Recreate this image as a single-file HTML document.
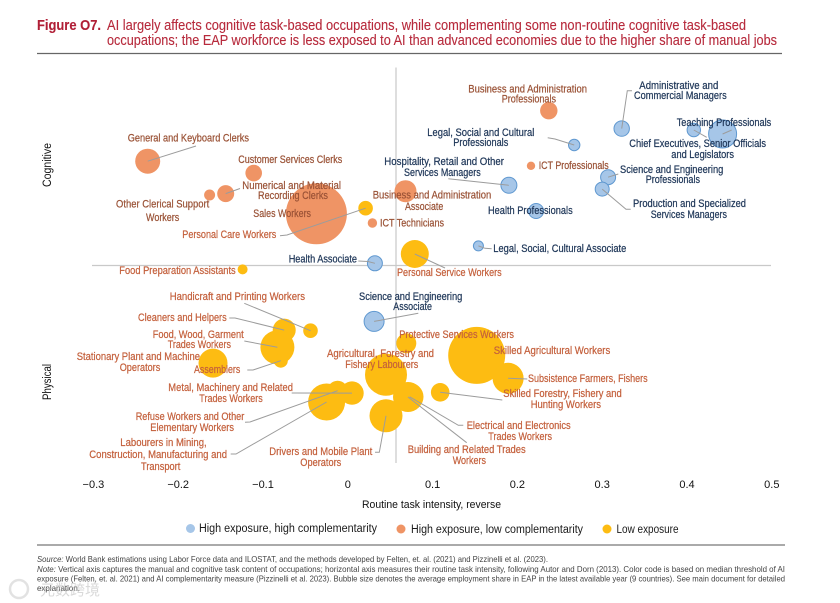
<!DOCTYPE html>
<html lang="en">
<head>
<meta charset="utf-8">
<title>Figure O7</title>
<style>
html,body{margin:0;padding:0;background:#fff;width:840px;height:603px;overflow:hidden}
svg{display:block;font-family:"Liberation Sans",sans-serif}
.t{font-size:14.6px;fill:#b72a3c;stroke:#b72a3c;stroke-width:.12px}
.l{font-size:10.6px;text-anchor:start;stroke-width:.22px}
.b{fill:#1d3557;stroke:#1d3557}.o{fill:#9a5236;stroke:#9a5236}.y{fill:#c4603c;stroke:#c4603c}
.n{font-size:8.2px;fill:#444}
</style>
</head>
<body>
<svg id="chart" width="840" height="603" viewBox="0 0 840 603" xmlns="http://www.w3.org/2000/svg">
<g>
<text class="t" x="37" y="30" font-weight="bold" textLength="64" lengthAdjust="spacingAndGlyphs" style="fill:#b01e36">Figure O7.</text>
<text class="t" x="107" y="30" textLength="639" lengthAdjust="spacingAndGlyphs">AI largely affects cognitive task-based occupations, while complementing some non-routine cognitive task-based</text>
<text class="t" x="107" y="45" textLength="670" lengthAdjust="spacingAndGlyphs">occupations; the EAP workforce is less exposed to AI than advanced economies due to the higher share of manual jobs</text>
</g>
<line x1="37" y1="53.5" x2="782" y2="53.5" stroke="#666" stroke-width="1.3"/>
<line x1="92" y1="265.5" x2="771" y2="265.5" stroke="#c9c9c9" stroke-width="1.2"/>
<line x1="396" y1="67.5" x2="396" y2="463" stroke="#c9c9c9" stroke-width="1.2"/>
<g id="bubbles"></g>
<g id="leaders"></g>
<g id="ticks"></g>

<g>
<text class="l o" x="127.7" y="141.7" textLength="121.3" lengthAdjust="spacingAndGlyphs">General and Keyboard Clerks</text>
<text class="l o" x="238.3" y="163" textLength="104" lengthAdjust="spacingAndGlyphs">Customer Services Clerks</text>
<text class="l o" x="242.3" y="189" textLength="98.7" lengthAdjust="spacingAndGlyphs">Numerical and Material</text>
<text class="l o" x="258" y="199" textLength="70" lengthAdjust="spacingAndGlyphs">Recording Clerks</text>
<text class="l o" x="116" y="207.7" textLength="93.3" lengthAdjust="spacingAndGlyphs">Other Clerical Support</text>
<text class="l o" x="146" y="221" textLength="33.3" lengthAdjust="spacingAndGlyphs">Workers</text>
<text class="l o" x="253.3" y="217" textLength="57.7" lengthAdjust="spacingAndGlyphs">Sales Workers</text>
<text class="l y" x="182.3" y="238" textLength="94" lengthAdjust="spacingAndGlyphs">Personal Care Workers</text>
<text class="l o" x="372.7" y="198.7" textLength="118.6" lengthAdjust="spacingAndGlyphs">Business and Administration</text>
<text class="l o" x="405" y="210" textLength="38.3" lengthAdjust="spacingAndGlyphs">Associate</text>
<text class="l o" x="380" y="226.7" textLength="64" lengthAdjust="spacingAndGlyphs">ICT Technicians</text>
<text class="l b" x="288.7" y="262.7" textLength="68.3" lengthAdjust="spacingAndGlyphs">Health Associate</text>
<text class="l b" x="384.3" y="165" textLength="119.7" lengthAdjust="spacingAndGlyphs">Hospitality, Retail and Other</text>
<text class="l b" x="404" y="176" textLength="76.7" lengthAdjust="spacingAndGlyphs">Services Managers</text>
<text class="l y" x="119.3" y="274" textLength="116.4" lengthAdjust="spacingAndGlyphs">Food Preparation Assistants</text>
<text class="l o" x="468.3" y="92.7" textLength="118.7" lengthAdjust="spacingAndGlyphs">Business and Administration</text>
<text class="l o" x="501.7" y="102.7" textLength="54.3" lengthAdjust="spacingAndGlyphs">Professionals</text>
<text class="l b" x="427.3" y="136" textLength="107" lengthAdjust="spacingAndGlyphs">Legal, Social and Cultural</text>
<text class="l b" x="453.3" y="146" textLength="55" lengthAdjust="spacingAndGlyphs">Professionals</text>
<text class="l o" x="538.7" y="169" textLength="70" lengthAdjust="spacingAndGlyphs">ICT Professionals</text>
<text class="l b" x="639.3" y="89" textLength="79" lengthAdjust="spacingAndGlyphs">Administrative and</text>
<text class="l b" x="634" y="99" textLength="92.7" lengthAdjust="spacingAndGlyphs">Commercial Managers</text>
<text class="l b" x="676.7" y="126" textLength="94.6" lengthAdjust="spacingAndGlyphs">Teaching Professionals</text>
<text class="l b" x="629.3" y="147" textLength="136.7" lengthAdjust="spacingAndGlyphs">Chief Executives, Senior Officials</text>
<text class="l b" x="671.3" y="158" textLength="62.7" lengthAdjust="spacingAndGlyphs">and Legislators</text>
<text class="l b" x="620" y="173" textLength="103.3" lengthAdjust="spacingAndGlyphs">Science and Engineering</text>
<text class="l b" x="645.7" y="183" textLength="54.3" lengthAdjust="spacingAndGlyphs">Professionals</text>
<text class="l b" x="633" y="207" textLength="113" lengthAdjust="spacingAndGlyphs">Production and Specialized</text>
<text class="l b" x="650.7" y="218" textLength="76.3" lengthAdjust="spacingAndGlyphs">Services Managers</text>
<text class="l b" x="488" y="214" textLength="84.7" lengthAdjust="spacingAndGlyphs">Health Professionals</text>
<text class="l b" x="493.3" y="252" textLength="133" lengthAdjust="spacingAndGlyphs">Legal, Social, Cultural Associate</text>
<text class="l y" x="397" y="276" textLength="104.7" lengthAdjust="spacingAndGlyphs">Personal Service Workers</text>
<text class="l y" x="169.7" y="300" textLength="135.3" lengthAdjust="spacingAndGlyphs">Handicraft and Printing Workers</text>
<text class="l y" x="138" y="321" textLength="88.7" lengthAdjust="spacingAndGlyphs">Cleaners and Helpers</text>
<text class="l y" x="152.7" y="338" textLength="91" lengthAdjust="spacingAndGlyphs">Food, Wood, Garment</text>
<text class="l y" x="167.7" y="348" textLength="63.3" lengthAdjust="spacingAndGlyphs">Trades Workers</text>
<text class="l y" x="76.7" y="360" textLength="123.3" lengthAdjust="spacingAndGlyphs">Stationary Plant and Machine</text>
<text class="l y" x="119.7" y="371" textLength="40.6" lengthAdjust="spacingAndGlyphs">Operators</text>
<text class="l y" x="194" y="373" textLength="46.3" lengthAdjust="spacingAndGlyphs">Assemblers</text>
<text class="l b" x="359" y="300" textLength="103.3" lengthAdjust="spacingAndGlyphs">Science and Engineering</text>
<text class="l b" x="393.3" y="310" textLength="38.7" lengthAdjust="spacingAndGlyphs">Associate</text>
<text class="l y" x="399.3" y="338" textLength="114.7" lengthAdjust="spacingAndGlyphs">Protective Services Workers</text>
<text class="l y" x="327" y="357" textLength="107" lengthAdjust="spacingAndGlyphs">Agricultural, Forestry and</text>
<text class="l y" x="345.3" y="368" textLength="73" lengthAdjust="spacingAndGlyphs">Fishery Labourers</text>
<text class="l y" x="168.3" y="391" textLength="124.7" lengthAdjust="spacingAndGlyphs">Metal, Machinery and Related</text>
<text class="l y" x="199.3" y="402" textLength="63.4" lengthAdjust="spacingAndGlyphs">Trades Workers</text>
<text class="l y" x="135.7" y="420" textLength="108.6" lengthAdjust="spacingAndGlyphs">Refuse Workers and Other</text>
<text class="l y" x="150.3" y="431" textLength="83.7" lengthAdjust="spacingAndGlyphs">Elementary Workers</text>
<text class="l y" x="120.3" y="446" textLength="86.4" lengthAdjust="spacingAndGlyphs">Labourers in Mining,</text>
<text class="l y" x="89.3" y="458" textLength="137.7" lengthAdjust="spacingAndGlyphs">Construction, Manufacturing and</text>
<text class="l y" x="141" y="470" textLength="39.3" lengthAdjust="spacingAndGlyphs">Transport</text>
<text class="l y" x="269.3" y="455" textLength="103" lengthAdjust="spacingAndGlyphs">Drivers and Mobile Plant</text>
<text class="l y" x="300.3" y="466" textLength="41" lengthAdjust="spacingAndGlyphs">Operators</text>
<text class="l y" x="493.7" y="354" textLength="116.6" lengthAdjust="spacingAndGlyphs">Skilled Agricultural Workers</text>
<text class="l y" x="528" y="382" textLength="119.7" lengthAdjust="spacingAndGlyphs">Subsistence Farmers, Fishers</text>
<text class="l y" x="503.3" y="397" textLength="118.4" lengthAdjust="spacingAndGlyphs">Skilled Forestry, Fishery and</text>
<text class="l y" x="530.7" y="408" textLength="70.3" lengthAdjust="spacingAndGlyphs">Hunting Workers</text>
<text class="l y" x="466.7" y="429" textLength="104" lengthAdjust="spacingAndGlyphs">Electrical and Electronics</text>
<text class="l y" x="488.3" y="440" textLength="63.7" lengthAdjust="spacingAndGlyphs">Trades Workers</text>
<text class="l y" x="407.7" y="453" textLength="118" lengthAdjust="spacingAndGlyphs">Building and Related Trades</text>
<text class="l y" x="452.7" y="464" textLength="33.3" lengthAdjust="spacingAndGlyphs">Workers</text>
</g>

<text transform="translate(51,187) rotate(-90)" font-size="11.5" fill="#111" textLength="44" lengthAdjust="spacingAndGlyphs">Cognitive</text>
<text transform="translate(51,400) rotate(-90)" font-size="11.5" fill="#111" textLength="36" lengthAdjust="spacingAndGlyphs">Physical</text>
<text x="362" y="508" font-size="11" fill="#111" textLength="139" lengthAdjust="spacingAndGlyphs">Routine task intensity, reverse</text>

<g>
<circle cx="190.5" cy="528.5" r="4.5" fill="#a6c6e8"/>
<text x="199" y="532" font-size="11.5" fill="#1a1a1a" textLength="178" lengthAdjust="spacingAndGlyphs">High exposure, high complementarity</text>
<circle cx="401" cy="529" r="4.5" fill="#ef9465"/>
<text x="411" y="533" font-size="11.5" fill="#1a1a1a" textLength="172" lengthAdjust="spacingAndGlyphs">High exposure, low complementarity</text>
<circle cx="607" cy="529" r="4.5" fill="#fdbc12"/>
<text x="616.5" y="533" font-size="11.5" fill="#1a1a1a" textLength="62" lengthAdjust="spacingAndGlyphs">Low exposure</text>
</g>
<line x1="37" y1="545" x2="785" y2="545" stroke="#777" stroke-width="1.2"/>
<g>
<text class="n" x="37" y="562" textLength="511" lengthAdjust="spacingAndGlyphs"><tspan font-style="italic">Source:</tspan> World Bank estimations using Labor Force data and ILOSTAT, and the methods developed by Felten, et. al. (2021) and Pizzinelli et al. (2023).</text>
<text class="n" x="37" y="572" textLength="748" lengthAdjust="spacingAndGlyphs"><tspan font-style="italic">Note:</tspan> Vertical axis captures the manual and cognitive task content of occupations; horizontal axis measures their routine task intensity, following Autor and Dorn (2013). Color code is based on median threshold of AI</text>
<text class="n" x="37" y="581.5" textLength="748" lengthAdjust="spacingAndGlyphs">exposure (Felten, et. al. 2021) and AI complementarity measure (Pizzinelli et al. 2023). Bubble size denotes the average employment share in EAP in the latest available year (9 countries). See main document for detailed</text>
<text class="n" x="37" y="591" textLength="43" lengthAdjust="spacingAndGlyphs">explanation.</text>
</g>
<g opacity="0.55">
<circle cx="19" cy="589" r="9" fill="none" stroke="#ccc" stroke-width="2.5"/>
<text x="40" y="595" font-size="15" fill="#bbb" style='font-family:"Liberation Sans","Noto Sans CJK SC",sans-serif'>元数跨境</text>
</g>
</svg>
<script>
const occupations = ["General and Keyboard Clerks","Customer Services Clerks","Numerical and Material Recording Clerks","Other Clerical Support Workers","Sales Workers","Personal Care Workers","ICT Technicians","Business and Administration Associate","Health Associate","Personal Service Workers","Food Preparation Assistants","Business and Administration Professionals","Legal, Social and Cultural Professionals","Administrative and Commercial Managers","Chief Executives, Senior Officials and Legislators","Teaching Professionals","ICT Professionals","Science and Engineering Professionals","Production and Specialized Services Managers","Hospitality, Retail and Other Services Managers","Health Professionals","Legal, Social, Cultural Associate","Handicraft and Printing Workers","Cleaners and Helpers","Food, Wood, Garment Trades Workers","Assemblers","Stationary Plant and Machine Operators","Science and Engineering Associate","Protective Services Workers","Agricultural, Forestry and Fishery Labourers","Metal, Machinery and Related Trades Workers","Refuse Workers and Other Elementary Workers","Labourers in Mining, Construction, Manufacturing and Transport","Drivers and Mobile Plant Operators","Electrical and Electronics Trades Workers","Building and Related Trades Workers","Skilled Forestry, Fishery and Hunting Workers","Skilled Agricultural Workers","Subsistence Farmers, Fishers"];
const routineIntensity = [-0.236,-0.111,-0.144,-0.163,-0.037,0.021,0.029,0.068,0.032,0.079,-0.124,0.237,0.267,0.323,0.408,0.442,0.216,0.307,0.300,0.190,0.222,0.154,-0.044,-0.075,-0.083,-0.079,-0.159,0.031,0.069,0.045,0.005,-0.012,-0.025,0.045,0.073,0.071,0.109,0.152,0.189];
const cognitiveManual = [0.528,0.468,0.364,0.357,0.262,0.290,0.215,0.376,0.011,0.058,-0.020,0.784,0.610,0.693,0.686,0.666,0.505,0.447,0.387,0.406,0.276,0.099,-0.330,-0.327,-0.414,-0.482,-0.494,-0.283,-0.394,-0.553,-0.646,-0.634,-0.691,-0.761,-0.665,-0.666,-0.642,-0.455,-0.571];
const employmentShare = [1.56,0.69,0.72,0.30,9.30,0.53,0.22,1.21,0.56,1.96,0.25,0.76,0.32,0.59,0.45,1.96,0.18,0.56,0.49,0.64,0.56,0.25,0.53,1.32,2.89,0.49,2.10,1.00,1.00,4.41,1.37,1.00,3.42,2.72,1.90,2.25,0.86,8.12,2.40];
const exposureGroup = ["low-comp","low-comp","low-comp","low-comp","low-comp","low-exp","low-comp","low-comp","high-comp","low-exp","low-exp","low-comp","high-comp","high-comp","high-comp","high-comp","low-comp","high-comp","high-comp","high-comp","high-comp","high-comp","low-exp","low-exp","low-exp","low-exp","low-exp","high-comp","low-exp","low-exp","low-exp","low-exp","low-exp","low-exp","low-exp","low-exp","low-exp","low-exp","low-exp"];
const xTickValues = [-0.3,-0.2,-0.1,0,0.1,0.2,0.3,0.4,0.5];
const xTickLabels = ["\u22120.3","\u22120.2","\u22120.1","0","0.1","0.2","0.3","0.4","0.5"];

const SVG_NS = "http://www.w3.org/2000/svg";
function xScale(v){ return 347.8 + 848 * v; }
function yScale(v){ return 265.5 - 197.5 * v; }
function rScale(s){ return 10 * Math.sqrt(s); }
function slug(s){ return s.toLowerCase().replace(/[^a-z0-9]+/g,'-').replace(/^-|-$/g,''); }

const fills = {"high-comp":"#a6c6e8","low-comp":"#ef9465","low-exp":"#fdbc12"};
/* Layout only: fixed label-side end points of the leader lines, by occupation name. */
const leaderLayout = {
 "General and Keyboard Clerks":[[196,146]],
 "Numerical and Material Recording Clerks":[[240,188.5]],
 "Personal Care Workers":[[280,235.7],[287,235]],
 "Health Associate":[[358.3,261],[368,261.5]],
 "Personal Service Workers":[[445,268]],
 "Administrative and Commercial Managers":[[632,90.7],[627.3,90.7]],
 "Legal, Social and Cultural Professionals":[[547.7,137.7],[555,139]],
 "Chief Executives, Senior Officials and Legislators":[[706.7,137.3]],
 "Teaching Professionals":[[731.7,130]],
 "Hospitality, Retail and Other Services Managers":[[448.3,178.7]],
 "Science and Engineering Professionals":[[618.3,174]],
 "Production and Specialized Services Managers":[[630.7,209.3],[626,209.3]],
 "Legal, Social, Cultural Associate":[[491.7,248.7],[485,248.3]],
 "Handicraft and Printing Workers":[[244.3,303.3]],
 "Cleaners and Helpers":[[229.3,318],[235,318]],
 "Food, Wood, Garment Trades Workers":[[244.3,341]],
 "Assemblers":[[247.3,370],[253,370]],
 "Science and Engineering Associate":[[418.3,313.3]],
 "Metal, Machinery and Related Trades Workers":[[291.7,393]],
 "Refuse Workers and Other Elementary Workers":[[245,422.3],[250,422]],
 "Labourers in Mining, Construction, Manufacturing and Transport":[[230.7,454],[236,454]],
 "Drivers and Mobile Plant Operators":[[375,452.3],[379.3,452.3]],
 "Electrical and Electronics Trades Workers":[[463.3,425.3],[458.3,425.3]],
 "Building and Related Trades Workers":[[466.7,442.7]],
 "Skilled Forestry, Fishery and Hunting Workers":[[502.3,400]],
 "Subsistence Farmers, Fishers":[[527.3,379]]
};

const bubbleLayer = document.getElementById('bubbles');
const leaderLayer = document.getElementById('leaders');
const tickLayer = document.getElementById('ticks');

occupations.forEach(function(name,i){
  const c = document.createElementNS(SVG_NS,'circle');
  c.setAttribute('cx', xScale(routineIntensity[i]).toFixed(1));
  c.setAttribute('cy', yScale(cognitiveManual[i]).toFixed(1));
  c.setAttribute('r', rScale(employmentShare[i]).toFixed(1));
  c.setAttribute('fill', fills[exposureGroup[i]]);
  if (exposureGroup[i] === 'high-comp') {
    c.setAttribute('stroke', '#5f98d0');
    c.setAttribute('stroke-width', '1');
  }
  
  
  const tip = document.createElementNS(SVG_NS,'title');
  tip.textContent = name;
  c.appendChild(tip);
  bubbleLayer.appendChild(c);

  const pts = leaderLayout[name];
  if (pts) {
    const p = document.createElementNS(SVG_NS,'polyline');
    const all = pts.concat([[xScale(routineIntensity[i]), yScale(cognitiveManual[i])]]);
    p.setAttribute('points', all.map(function(q){ return q[0].toFixed(1) + ',' + q[1].toFixed(1); }).join(' '));
    p.setAttribute('fill', 'none');
    p.setAttribute('stroke', '#9c9c9c');
    p.setAttribute('stroke-width', '1');
    
    
    leaderLayer.appendChild(p);
  }
});

xTickValues.forEach(function(v,i){
  const t = document.createElementNS(SVG_NS,'text');
  t.setAttribute('x', xScale(v).toFixed(1));
  t.setAttribute('y', '488');
  t.setAttribute('text-anchor', 'middle');
  t.setAttribute('font-size', '11');
  t.setAttribute('fill', '#111');
  
  
  t.textContent = xTickLabels[i];
  tickLayer.appendChild(t);
});
</script>
</body>
</html>
